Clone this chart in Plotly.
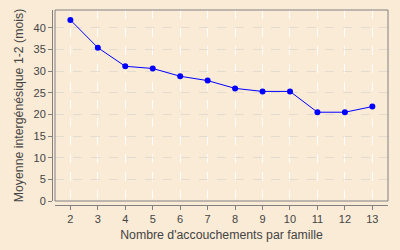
import plotly.graph_objects as go

categories = [2, 3, 4, 5, 6, 7, 8, 9, 10, 11, 12, 13]
values = [41.8, 35.4, 31.1, 30.6, 28.8, 27.8, 26.0, 25.3, 25.3, 20.5, 20.5, 21.8]
y_ticks = [0, 5, 10, 15, 20, 25, 30, 35, 40]

bg = "#FAEBD7"
axis_col = "#808080"
font = dict(family="Liberation Sans, Arial, sans-serif", size=11, color="#444444")
title_font = dict(family="Liberation Sans, Arial, sans-serif", size=12.3, color="#444444")

fig = go.Figure(go.Scatter(
    x=categories, y=values, mode="lines+markers",
    line=dict(color="#0000FF", width=1),
    marker=dict(color="#0000FF", size=6),
))

xd0 = 3 / 336
yd0 = 4 / 195
fig.update_layout(
    width=400, height=250,
    margin=dict(l=52, r=12, t=10, b=45),
    paper_bgcolor=bg, plot_bgcolor=bg,
    font=font, showlegend=False,
    xaxis=dict(
        domain=[xd0, 1], anchor="free", position=0,
        range=[1.44, 13.57], tickvals=categories,
        showline=True, linecolor=axis_col, linewidth=1,
        ticks="outside", ticklen=4, tickcolor=axis_col,
        showgrid=True, gridcolor="rgba(255,255,255,0.9)", griddash="dash", gridwidth=1,
        zeroline=False,
        title=dict(text="Nombre d'accouchements par famille", standoff=6, font=title_font),
        tickfont=font,
    ),
    yaxis=dict(
        domain=[yd0, 1], anchor="free", position=0,
        range=[0, 44.1], tickvals=y_ticks,
        showline=True, linecolor=axis_col, linewidth=1,
        ticks="outside", ticklen=4, tickcolor=axis_col,
        showgrid=True, gridcolor="rgba(200,200,200,0.45)", griddash="dash", gridwidth=1,
        zeroline=False,
        title=dict(text="Moyenne intergénésique 1-2 (mois)", standoff=6, font=title_font),
        tickfont=font,
    ),
    shapes=[dict(type="rect", xref="paper", yref="paper",
                 x0=xd0, x1=1, y0=yd0, y1=1,
                 line=dict(color=axis_col, width=1), fillcolor="rgba(0,0,0,0)")],
)

fig.write_html("out.html")
